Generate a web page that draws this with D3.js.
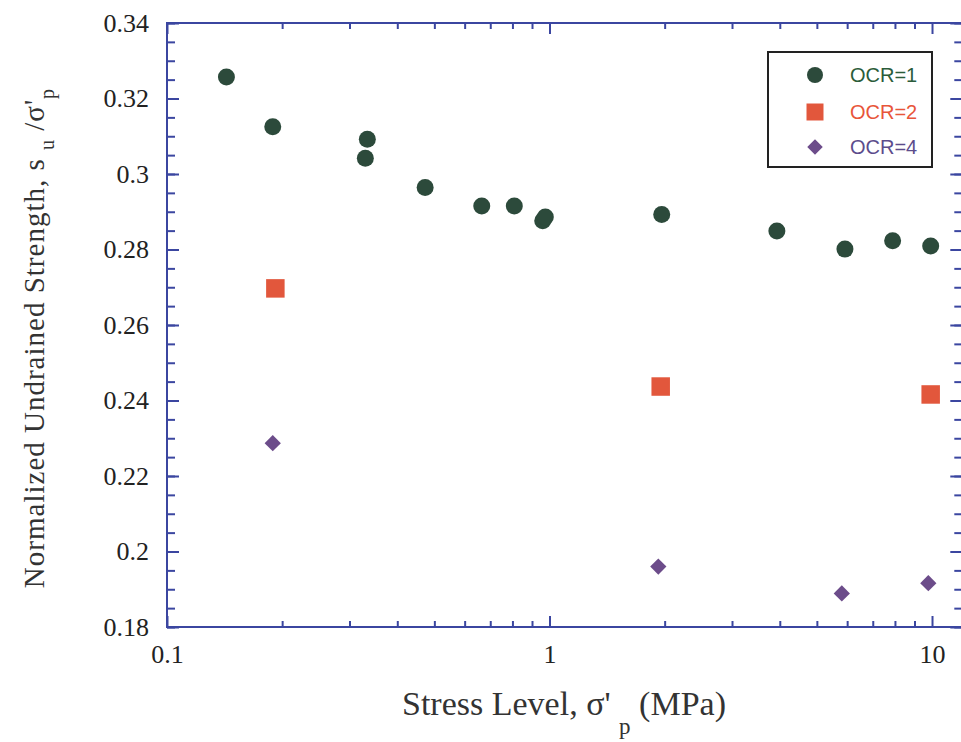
<!DOCTYPE html>
<html>
<head>
<meta charset="utf-8">
<script src="https://cdn.jsdelivr.net/npm/d3@7"></script>
<style>
  html, body { margin: 0; padding: 0; background: #ffffff; }
  svg { display: block; }
</style>
</head>
<body>
<svg id="chart" width="961" height="742"></svg>
<script>
// ---- data ----
const ocr1X = [0.143, 0.189, 0.334, 0.330, 0.473, 0.665, 0.809, 0.960, 0.975, 1.965, 3.93, 5.92, 7.89, 9.92];
const ocr1Y = [0.3257, 0.3125, 0.3092, 0.3042, 0.2964, 0.2915, 0.2915, 0.2876, 0.2886, 0.2893, 0.2849, 0.2801, 0.2823, 0.2809];
const ocr2X = [0.192, 1.953, 9.92];
const ocr2Y = [0.2697, 0.2437, 0.2416];
const ocr4X = [0.189, 1.925, 5.81, 9.78];
const ocr4Y = [0.2287, 0.1960, 0.1889, 0.1916];
const seriesNames = ["OCR=1", "OCR=2", "OCR=4"];
const xMajorTicks = [0.1, 1, 10];
const xTickLabels = ["0.1", "1", "10"];
const xMinorTicks = [0.2, 0.3, 0.4, 0.5, 0.6, 0.7, 0.8, 0.9, 2, 3, 4, 5, 6, 7, 8, 9];
const yMajorTicks = [0.18, 0.2, 0.22, 0.24, 0.26, 0.28, 0.3, 0.32, 0.34];
const yTickLabels = ["0.18", "0.2", "0.22", "0.24", "0.26", "0.28", "0.3", "0.32", "0.34"];
const yMinorTicks = d3.range(0, 33).map(i => 0.18 + i * 0.005);

// ---- layout ----
const pLeft = 167, pTop = 23, pRight = 962.3, pBottom = 627;
const axisColor = "#3b46a0";
const serif = "'Liberation Serif', 'Times New Roman', serif";
const sans = "'Liberation Sans', Arial, sans-serif";

const svg = d3.select("#chart");
const x = d3.scaleLog().domain([0.1, 12]).range([pLeft, pRight]);
const y = d3.scaleLinear().domain([0.18, 0.34]).range([pBottom, pTop]);

function styleAxis(g) {
  g.select(".domain").remove();
  g.selectAll(".tick line").attr("stroke", axisColor).attr("stroke-width", 2);
  g.selectAll("text").attr("font-family", serif).attr("font-size", 26).attr("fill", "#222");
}

// bottom
svg.append("g").attr("transform", `translate(0,${pBottom})`)
  .call(d3.axisBottom(x).tickValues(xMinorTicks).tickFormat("").tickSizeInner(-6).tickSizeOuter(0)).call(styleAxis);
svg.append("g").attr("transform", `translate(0,${pBottom})`)
  .call(d3.axisBottom(x).tickValues(xMajorTicks).tickFormat((d, i) => xTickLabels[i]).tickSizeInner(-11).tickSizeOuter(0).tickPadding(18)).call(styleAxis);
// top
svg.append("g").attr("transform", `translate(0,${pTop})`)
  .call(d3.axisTop(x).tickValues(xMinorTicks).tickFormat("").tickSizeInner(-6).tickSizeOuter(0)).call(styleAxis);
svg.append("g").attr("transform", `translate(0,${pTop})`)
  .call(d3.axisTop(x).tickValues(xMajorTicks).tickFormat("").tickSizeInner(-11).tickSizeOuter(0)).call(styleAxis);
// left
svg.append("g").attr("transform", `translate(${pLeft},0)`)
  .call(d3.axisLeft(y).tickValues(yMinorTicks).tickFormat("").tickSizeInner(-8).tickSizeOuter(0)).call(styleAxis);
svg.append("g").attr("transform", `translate(${pLeft},0)`)
  .call(d3.axisLeft(y).tickValues(yMajorTicks).tickFormat((d, i) => yTickLabels[i]).tickSizeInner(-12).tickSizeOuter(0).tickPadding(18)).call(styleAxis);
// right
svg.append("g").attr("transform", `translate(${pRight},0)`)
  .call(d3.axisRight(y).tickValues(yMinorTicks).tickFormat("").tickSizeInner(-8).tickSizeOuter(0)).call(styleAxis);
svg.append("g").attr("transform", `translate(${pRight},0)`)
  .call(d3.axisRight(y).tickValues(yMajorTicks).tickFormat("").tickSizeInner(-12).tickSizeOuter(0)).call(styleAxis);

// frame
svg.append("rect").attr("x", pLeft).attr("y", pTop)
  .attr("width", pRight - pLeft).attr("height", pBottom - pTop)
  .attr("fill", "none").attr("stroke", axisColor).attr("stroke-width", 2);

// ---- markers ----
const green = "#2c4a3b", red = "#e2573c", purple = "#6c4c8a";
const circleSym = d3.symbol().type(d3.symbolCircle).size(Math.PI * 8.5 * 8.5);
const squareSym = d3.symbol().type(d3.symbolSquare).size(18.5 * 18.5);
const diamondSym = d3.symbol().type(d3.symbolSquare).size(11.5 * 11.5);

const g1 = svg.append("g");
g1.selectAll("path").data(ocr1X.map((v, i) => [v, ocr1Y[i]])).join("path")
  .attr("d", circleSym).attr("fill", green)
  .attr("transform", d => `translate(${x(d[0])},${y(d[1])})`);
const g2 = svg.append("g");
g2.selectAll("path").data(ocr2X.map((v, i) => [v, ocr2Y[i]])).join("path")
  .attr("d", squareSym).attr("fill", red)
  .attr("transform", d => `translate(${x(d[0])},${y(d[1])})`);
const g4 = svg.append("g");
g4.selectAll("path").data(ocr4X.map((v, i) => [v, ocr4Y[i]])).join("path")
  .attr("d", diamondSym).attr("fill", purple)
  .attr("transform", d => `translate(${x(d[0])},${y(d[1])}) rotate(45)`);

// ---- legend ----
const lg = svg.append("g");
lg.append("rect").attr("x", 768).attr("y", 52).attr("width", 164).attr("height", 115)
  .attr("fill", "#fff").attr("stroke", "#222").attr("stroke-width", 2);
const legendItems = [
  { name: seriesNames[0], sym: d3.symbol().type(d3.symbolCircle).size(Math.PI * 8 * 8), color: green, text: "#2b5c3a", rot: 0, cy: 75 },
  { name: seriesNames[1], sym: d3.symbol().type(d3.symbolSquare).size(17 * 17), color: red, text: "#e8553a", rot: 0, cy: 112 },
  { name: seriesNames[2], sym: d3.symbol().type(d3.symbolSquare).size(11 * 11), color: purple, text: "#5c4c8c", rot: 45, cy: 147 }
];
legendItems.forEach(it => {
  lg.append("path").attr("d", it.sym).attr("fill", it.color)
    .attr("transform", `translate(815,${it.cy}) rotate(${it.rot})`);
  lg.append("text").attr("x", 850).attr("y", it.cy).attr("dy", "0.36em")
    .attr("font-family", sans).attr("font-size", 20).attr("fill", it.text).text(it.name);
});

// ---- axis titles ----
const xt = svg.append("text").attr("x", 564).attr("y", 715).attr("text-anchor", "middle")
  .attr("font-family", serif).attr("font-size", 34).attr("fill", "#333");
xt.append("tspan").text("Stress Level, σ' ");
xt.append("tspan").attr("dy", 19).attr("font-size", 23).text("p");
xt.append("tspan").attr("dy", -19).text(" (MPa)");

const yt = svg.append("text").attr("transform", "translate(44,338) rotate(-90)").attr("text-anchor", "middle")
  .attr("font-family", serif).attr("font-size", 29).attr("letter-spacing", 1).attr("fill", "#333");
yt.append("tspan").text("Normalized Undrained Strength, s ");
yt.append("tspan").attr("dy", 10).attr("font-size", 20).text("u");
yt.append("tspan").attr("dy", -10).text(" /σ'");
yt.append("tspan").attr("dy", 10).attr("font-size", 20).text("p");
</script>
</body>
</html>
